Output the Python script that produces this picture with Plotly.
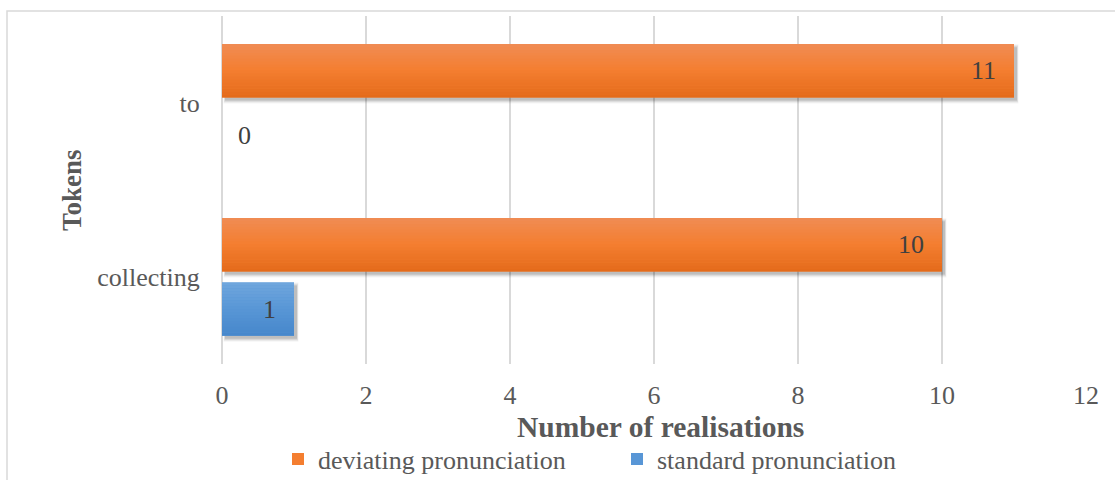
import plotly.graph_objects as go

# Data
tokens = ["collecting", "to"]
deviating = [10, 11]
standard = [1, 0]
series_names = ["deviating pronunciation", "standard pronunciation"]
x_ticks = [0, 2, 4, 6, 8, 10, 12]

# Styling
FONT = "Liberation Serif"
TXT = "#595959"
GRID = "#d9d9d9"
W, H = 1115, 480
L, R, T, B = 222, 29, 16, 116
XMAX = 12

orange_stops = [(240, 140, 84), (244, 126, 48), (227, 106, 26)]
blue_stops = [(112, 167, 221), (88, 150, 214), (70, 135, 203)]

BAR_W = 0.306
OFF_DEV = 0.032
OFF_STD = -0.338

px_x = (W - L - R) / XMAX           # pixels per x unit
px_y = (H - T - B) / 2.0            # pixels per category


def interp(stops, t):
    if t <= 0.5:
        a, b, f = stops[0], stops[1], t / 0.5
    else:
        a, b, f = stops[1], stops[2], (t - 0.5) / 0.5
    c = [round(a[k] + (b[k] - a[k]) * f) for k in range(3)]
    return f"rgb({c[0]},{c[1]},{c[2]})"


fig = go.Figure()


def add_series(values, name, stops, offset):
    # soft drop shadow (down-right)
    for grow, alpha in [(3, 0.04), (2, 0.06), (1, 0.08), (0, 0.10)]:
        dx = (3 - grow * 0.5) / px_x
        dy = 3 / px_y
        g = grow / px_y
        fig.add_trace(go.Bar(
            y=tokens, x=[v + grow / px_x if v > 0 else 0 for v in values],
            base=dx, orientation="h",
            offset=offset - dy - g, width=BAR_W + 2 * g,
            marker=dict(color=f"rgba(0,0,0,{alpha})", line=dict(width=0)),
            showlegend=False, hoverinfo="skip"))
    # main bar (legend entry)
    fig.add_trace(go.Bar(
        y=tokens, x=values, orientation="h", name=name,
        offset=offset, width=BAR_W,
        marker=dict(color=interp(stops, 0.5), line=dict(width=0)),
        hoverinfo="x+y"))
    # vertical gradient slices
    n = 18
    for i in range(n):
        fig.add_trace(go.Bar(
            y=tokens, x=values, orientation="h",
            offset=offset + BAR_W - (i + 1) * BAR_W / n, width=BAR_W / n * 1.06,
            marker=dict(color=interp(stops, (i + 0.5) / n), line=dict(width=0)),
            showlegend=False, hoverinfo="skip"))


add_series(deviating, series_names[0], orange_stops, OFF_DEV)
add_series(standard, series_names[1], blue_stops, OFF_STD)

# value labels
for vals, off in [(deviating, OFF_DEV), (standard, OFF_STD)]:
    for tok, v in zip(tokens, vals):
        inside = v * px_x > 40
        fig.add_annotation(
            x=v, y=tokens.index(tok) + off + BAR_W / 2, xref="x", yref="y",
            text=str(v), showarrow=False,
            xanchor="right" if inside else "left",
            xshift=-16 if inside else 14,
            font=dict(family=FONT, size=26, color="#404040"))

# axis titles
fig.add_annotation(
    x=(72 - L) / (W - L - R), y=0.5, xref="paper", yref="paper",
    xanchor="center", yanchor="middle",
    text="<b>Tokens</b>", textangle=-90, showarrow=False,
    font=dict(family=FONT, size=27, color=TXT))
fig.add_annotation(
    x=(660 - L) / (W - L - R), y=-(427 - (H - B)) / (H - T - B),
    xref="paper", yref="paper", yanchor="middle",
    text="<b>Number of realisations</b>", showarrow=False,
    font=dict(family=FONT, size=29.5, color=TXT))

# outer frame
fig.add_shape(
    type="rect", xref="paper", yref="paper",
    x0=(7 - L) / (W - L - R), x1=(W + 10 - L) / (W - L - R),
    y0=-(H + 10 - (H - B)) / (H - T - B), y1=((H - B) - 11) / (H - T - B),
    line=dict(color=GRID, width=1.5), fillcolor="rgba(0,0,0,0)", layer="below")

fig.update_layout(
    width=W, height=H, margin=dict(l=L, r=R, t=T, b=B),
    paper_bgcolor="white", plot_bgcolor="white",
    barmode="overlay",
    font=dict(family=FONT, size=26, color=TXT),
    legend=dict(
        orientation="h", xref="container", yref="container",
        x=278 / W, xanchor="left", y=1 - 459 / H, yanchor="middle",
        entrywidth=294, entrywidthmode="pixels",
        font=dict(family=FONT, size=26, color=TXT),
        bgcolor="rgba(0,0,0,0)"),
    xaxis=dict(
        range=[0, XMAX], tickvals=x_ticks, showgrid=True, gridcolor=GRID,
        gridwidth=2, zeroline=True, zerolinecolor=GRID, zerolinewidth=2,
        showline=False, ticks="outside", ticklen=8,
        tickcolor="rgba(0,0,0,0)", tickfont=dict(size=26, color=TXT),
        fixedrange=True),
    yaxis=dict(
        type="category", categoryorder="array", categoryarray=tokens,
        range=[-0.5, 1.5], showgrid=False, zeroline=False, showline=False,
        ticks="outside", ticklen=16, tickcolor="rgba(0,0,0,0)",
        tickfont=dict(size=26, color=TXT), fixedrange=True),
)

fig.write_html("out.html")
